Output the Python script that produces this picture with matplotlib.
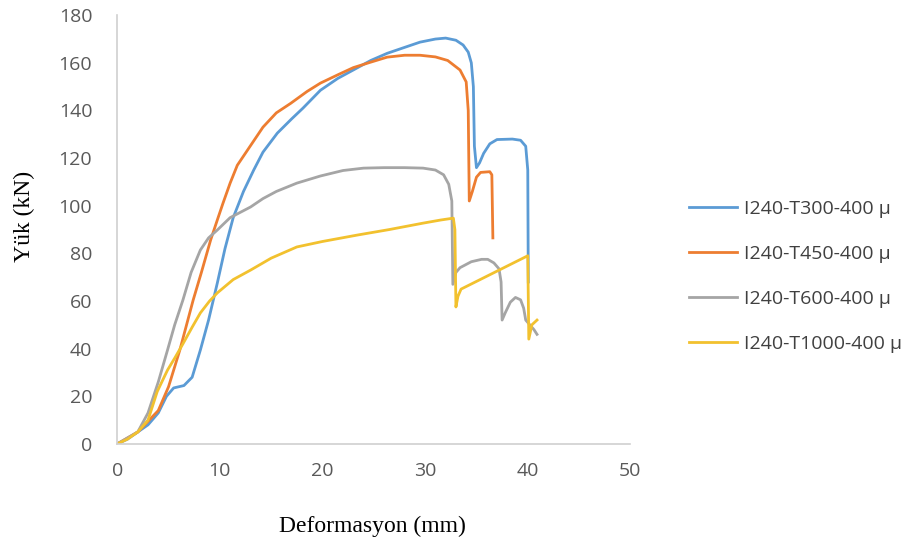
import matplotlib
matplotlib.use('Agg')
import matplotlib.pyplot as plt

# load-deformation curves (mm, kN)
t300_x = [0, 1, 2, 3, 4, 4.8, 5.5, 6.5, 7.3, 8.1, 8.9, 9.75, 10.5, 11.3, 12.3, 13.3, 14.2, 15.6,
          17, 18.1, 19.8, 21.5, 23, 24.7, 26.3, 28, 29.5, 31, 32, 33, 33.7, 34.2, 34.5, 34.7,
          34.8, 35.0, 35.3, 35.7, 36.3, 37, 38.5, 39.3, 39.8, 40.0, 40.05]
t300_y = [0, 2, 5, 8, 13, 20, 23.5, 24.5, 28, 39.4, 52, 67.5, 82, 95, 106, 115, 122.5, 130.5,
          136.5, 141, 148.5, 153.5, 157, 161, 164, 166.5, 168.7, 170, 170.4, 169.5, 167.5, 164.5, 160, 150,
          125, 116, 118, 122, 126, 127.8, 128, 127.5, 125, 115, 68]

t450_x = [0, 2, 4, 5, 6.1, 7.4, 8.2, 9.1, 9.75, 10.3, 11, 11.7, 12.7, 14.2, 15.5, 16.9, 18.5,
          19.8, 21.5, 23, 24.7, 26.3, 28, 29.5, 31, 32.2, 33.4, 34.0, 34.2, 34.3, 34.6, 35.0,
          35.4, 36.3, 36.5, 36.6]
t450_y = [0, 5, 14, 24, 39.4, 60.4, 72, 85.6, 94, 101, 109.5, 117, 123.4, 133, 139, 143, 148,
          151.5, 155, 158, 160.3, 162.4, 163.2, 163.2, 162.5, 161, 157, 152, 140, 102, 106, 112,
          114, 114.3, 113, 86.5]

t600_x = [0, 2, 3, 4, 4.9, 5.6, 6.4, 7.2, 8.1, 8.9, 9.75, 11, 13, 14.2, 15.5, 17.5, 19.8, 22,
          24, 26, 28, 29.8, 31, 31.8, 32.3, 32.6, 32.7, 33.0, 33.4, 34.5, 35.5, 36.1, 36.7, 37.2,
          37.4, 37.5, 37.8, 38.3, 38.8, 39.3, 39.6, 39.8, 40.2, 40.6, 40.9]
t600_y = [0, 5, 13, 26, 39.4, 50, 60.4, 72, 81.4, 86.5, 89.8, 95, 99.5, 103, 106, 109.5, 112.5, 114.8,
          115.8, 116, 116, 115.8, 115, 113, 109, 102, 67, 72, 74, 76.5, 77.5, 77.5, 76, 73.5,
          68, 52, 55, 59.5, 61.5, 60.5, 57, 52, 50, 48, 46]

t1000_x = [0, 1, 2, 3, 3.9, 4.9, 5.6, 6.4, 7.3, 8.1, 9, 9.75, 11.3, 13, 15, 17.5, 20, 23.4,
           26.5, 29.8, 31.5, 32.75, 32.9, 33.0, 33.2, 33.5, 40, 40.1, 40.4, 40.9]
t1000_y = [0, 2, 5, 10, 22, 31, 36, 42, 49, 55, 60, 63.4, 69, 73, 78, 82.7, 85, 87.7,
           90, 92.7, 94, 94.8, 90, 57.5, 62, 65, 79, 44, 50, 52]

labels = ['I240-T300-400 µ', 'I240-T450-400 µ', 'I240-T600-400 µ', 'I240-T1000-400 µ']
colors = ['#5b9bd5', '#ed7d31', '#a5a5a5', '#f2c12e']
xticks = [0, 10, 20, 30, 40, 50]
yticks = [0, 20, 40, 60, 80, 100, 120, 140, 160, 180]

fig = plt.figure(figsize=(9.23, 5.44), dpi=100)
ax = fig.add_axes([0.127, 0.184, 0.556, 0.788])

series = [(t300_x, t300_y), (t450_x, t450_y), (t600_x, t600_y), (t1000_x, t1000_y)]
for (x, y), lab, c in zip(series, labels, colors):
    ax.plot(x, y, color=c, lw=2.0, label=lab, solid_joinstyle='round')

ax.set_xlim(0, 50)
ax.set_ylim(0, 180)
ax.set_xticks(xticks)
ax.set_yticks(yticks)
ax.tick_params(length=0, labelsize=14, colors='#595959')
ax.tick_params(axis='x', pad=13)
ax.tick_params(axis='y', pad=18)
for lbl in ax.get_xticklabels() + ax.get_yticklabels():
    lbl.set_family('Open Sans')
for s in ['top', 'right']:
    ax.spines[s].set_visible(False)
for s in ['left', 'bottom']:
    ax.spines[s].set_color('#d0d0d0')
    ax.spines[s].set_linewidth(1.2)

ax.set_xlabel('Deformasyon (mm)', family='Liberation Serif', fontsize=17)
ax.set_ylabel('Yük (kN)', family='Liberation Serif', fontsize=17)
ax.xaxis.set_label_coords(0.497, -0.168)
ax.yaxis.set_label_coords(-0.16, 0.53)

leg = fig.legend(loc='center left', bbox_to_anchor=(0.727, 0.492), frameon=False,
                 handlelength=2.5, labelspacing=1.38, handletextpad=0.35,
                 prop={'family': 'Open Sans', 'size': 14})
for t in leg.get_texts():
    t.set_color('#404040')

fig.savefig('out.png', dpi=100)
